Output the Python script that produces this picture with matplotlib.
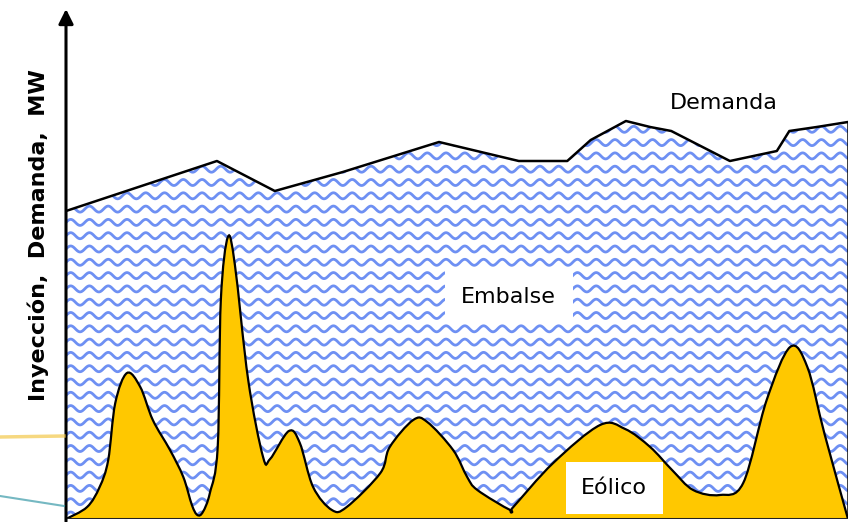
import numpy as np
import matplotlib
matplotlib.use('Agg')
import matplotlib.pyplot as plt
from matplotlib.patches import Polygon, PathPatch
from matplotlib.path import Path
from matplotlib.collections import LineCollection
from matplotlib.lines import Line2D

# ── Data (tiempo en % del periodo, potencia en % de escala) ───────────────────

demanda_t = [0, 19.3, 26.7, 35.4, 47.7, 57.9, 64.1, 67.1, 71.6, 74.7, 77.4,
             84.9, 90.9, 92.5, 96.0, 100]
demanda_mw = [61.6, 71.6, 65.6, 69.4, 75.4, 71.6, 71.6, 75.8, 79.6, 78.4, 77.6,
              71.6, 73.6, 77.6, 78.4, 79.4]

eolico_t = [0, 2.7, 4.3, 5.4, 6.3, 7.8, 9.5, 11.1, 13.3, 15.0, 16.1, 16.8,
            17.5, 18.4, 19.4, 19.8, 20.7, 21.6, 23.3, 25.2, 26.1, 28.5, 29.9,
            31.6, 34.0, 35.9, 40.2, 41.4, 44.4, 46.2, 49.5, 51.3, 52.6, 56.8,
            57.2, 62.3, 68.3, 71.5, 74.7, 77.5, 80.2, 83.6, 86.6, 89.6, 92.6,
            94.8, 97.0, 100]
eolico_mw = [0, 2.4, 6.4, 11.8, 23.2, 29.2, 26.4, 19.8, 13.8, 8.4, 2.8, 0.8,
             1.4, 5.2, 14.4, 43.8, 56.4, 50.8, 27.8, 12.4, 12.0, 17.6, 15.2,
             6.4, 1.8, 2.4, 9.2, 14.4, 19.8, 19.4, 13.8, 8.4, 5.8, 1.8,
             2.4, 11.2, 18.8, 18.0, 14.4, 9.8, 5.8, 4.8, 7.2, 23.8, 34.4,
             30.4, 17.0, 0]


def smooth_path(xs, ys, close_to_base=False):
    # Catmull-Rom style Bezier pieces that pass through every data point
    p = np.column_stack([xs, ys]).astype(float)
    n = len(p)
    verts = [tuple(p[0])]
    codes = [Path.MOVETO]
    for i in range(n - 1):
        p0 = p[max(i - 1, 0)]
        p3 = p[min(i + 2, n - 1)]
        c1 = p[i] + (p[i + 1] - p0) / 6
        c2 = p[i + 1] - (p3 - p[i]) / 6
        verts += [tuple(c1), tuple(c2), tuple(p[i + 1])]
        codes += [Path.CURVE4] * 3
    if close_to_base:
        verts += [(xs[-1], 0), (xs[0], 0), tuple(p[0])]
        codes += [Path.LINETO, Path.LINETO, Path.CLOSEPOLY]
    return Path(verts, codes)


# ── Figure ────────────────────────────────────────────────────────────────────

fig = plt.figure(figsize=(8.56, 5.22), dpi=100)
ax = fig.add_axes([66 / 856, 3 / 522, 782 / 856, 500 / 522])
ax.set_xlim(0, 100)
ax.set_ylim(0, 100)
for side in ['top', 'right', 'bottom', 'left']:
    ax.spines[side].set_visible(False)
ax.set_xticks([])
ax.set_yticks([])

# area under demand, filled with wavy "water" pattern
verts = [(0, 0)] + list(zip(demanda_t, demanda_mw)) + [(100, 0)]
area = Polygon(verts, closed=True, facecolor='white', edgecolor='none', zorder=1)
ax.add_patch(area)

xs = np.linspace(0, 100, 4000)
segs = []
for y0 in np.arange(0.8, 84, 2.66):
    segs.append(np.column_stack([xs, y0 + 0.6 * np.sin(2 * np.pi * xs / 2.4)]))
waves = LineCollection(segs, colors='#4a74f0', linewidths=2.0, alpha=0.8, zorder=2)
ax.add_collection(waves)
waves.set_clip_path(area)

ax.plot(demanda_t, demanda_mw, color='black', lw=1.8, zorder=4)
ax.vlines(demanda_t[-1], 0, demanda_mw[-1], color='black', lw=1.8, zorder=4)

# wind
ax.add_patch(PathPatch(smooth_path(eolico_t, eolico_mw, close_to_base=True),
                       facecolor='#ffc800', edgecolor='none', zorder=3))
ax.add_patch(PathPatch(smooth_path(eolico_t, eolico_mw),
                       facecolor='none', edgecolor='black', lw=1.6, zorder=4))

# axes lines
ax.axhline(0, color='#222222', lw=2.2, zorder=5)
ax.annotate('', xy=(0, 1.02), xytext=(0, -0.005), xycoords='axes fraction',
            arrowprops=dict(arrowstyle='-|>', lw=2.2, color='black',
                            mutation_scale=22, shrinkA=0, shrinkB=0),
            annotation_clip=False, zorder=6)

# labels
ax.text(84.1, 83.2, 'Demanda', fontsize=16, ha='center', va='center', zorder=6)
ax.text(56.6, 44.4, 'Embalse', fontsize=16, ha='center', va='center', zorder=6,
        bbox=dict(boxstyle='square,pad=0.75', fc='white', ec='none'))
ax.text(70.1, 6.2, 'Eólico', fontsize=16, ha='center', va='center', zorder=6,
        bbox=dict(boxstyle='square,pad=0.7', fc='white', ec='none'))

fig.text(38 / 856, 1 - 235 / 522, 'Inyección,  Demanda,  MW', rotation=90,
         fontsize=16, fontweight='bold', ha='center', va='center')

# slide background decorations at the left margin
fig.add_artist(Line2D([0, 64 / 856], [1 - 437 / 522, 1 - 436 / 522],
                      color='#f3c84a', lw=2.5, alpha=0.7))
fig.add_artist(Line2D([0, 64 / 856], [1 - 496 / 522, 1 - 506 / 522],
                      color='#3a9aa8', lw=1.5, alpha=0.7))

fig.savefig('out.png', dpi=100)
